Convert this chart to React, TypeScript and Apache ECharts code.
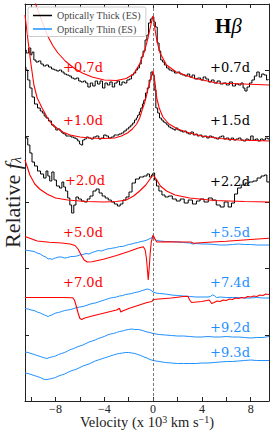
import React, { useEffect, useRef } from "react";
import * as echarts from "echarts";

// velocity (10^3 km/s) vs. relative flux (arbitrary, offset) — [v, f]
const thick07: number[][] = [[-10.5,351],[-10.3,348],[-10.1,353],[-9.95,346],[-9.85,349],[-9.7,341],[-9.5,339],[-9.3,340],[-9.1,337],[-8.9,335],[-8.7,336],[-8.45,334],[-8.2,332],[-8.0,331],[-7.8,330],[-7.6,331],[-7.4,329],[-7.2,327],[-7.0,326],[-6.8,325],[-6.6,323],[-6.4,322],[-6.2,323],[-6.0,320],[-5.8,319],[-5.6,320],[-5.45,318],[-5.25,314],[-5.05,318],[-4.85,315],[-4.65,320],[-4.45,317],[-4.25,320],[-4.05,313],[-3.85,318],[-3.65,316],[-3.45,319],[-3.25,314],[-3.05,318],[-2.85,320],[-2.65,316],[-2.45,319],[-2.25,318],[-2.05,321],[-1.85,322],[-1.7,326],[-1.5,328],[-1.35,331],[-1.2,333],[-1.05,337],[-0.9,344],[-0.75,350],[-0.57,361],[-0.45,366],[-0.3,378],[-0.15,382],[0,384],[0.12,379],[0.25,374],[0.43,358],[0.55,350],[0.7,341],[0.85,339],[1.0,336],[1.2,333],[1.4,331],[1.6,330],[1.9,328],[2.1,329],[2.3,327],[2.5,326],[2.7,325],[2.9,327],[3.1,324],[3.3,326],[3.5,322],[3.8,323],[4.0,321],[4.2,324],[4.45,322],[4.65,319],[4.9,321],[5.1,318],[5.4,320],[5.6,317],[5.9,318],[6.1,316],[6.4,319],[6.6,315],[6.9,317],[7.1,316],[7.3,318],[7.45,313],[7.6,310],[7.8,314],[8.0,318],[8.2,321],[8.4,325],[8.6,329],[8.8,324],[9.0,327],[9.2,326],[9.4,321],[9.5,322]];
const thick15: number[][] = [[-10.5,334],[-10.35,331],[-10.2,321],[-10.0,313],[-9.85,304],[-9.6,297],[-9.35,293],[-9.15,290],[-9.0,288],[-8.85,285],[-8.7,283],[-8.45,280],[-8.2,276],[-8.05,274],[-7.9,271],[-7.7,272],[-7.55,270],[-7.4,268],[-7.25,267],[-7.05,265],[-6.85,265],[-6.6,264],[-6.4,263],[-6.25,262],[-6.1,260],[-5.95,257],[-5.85,256],[-5.7,261],[-5.55,262],[-5.4,264],[-5.2,263],[-5.0,262],[-4.8,264],[-4.55,265],[-4.35,262],[-4.15,263],[-3.95,266],[-3.75,265],[-3.55,263],[-3.3,264],[-3.1,266],[-2.9,266],[-2.7,267],[-2.5,268],[-2.3,270],[-2.1,272],[-1.9,274],[-1.75,276],[-1.6,278],[-1.45,281],[-1.3,283],[-1.2,286],[-1.05,289],[-0.95,293],[-0.8,297],[-0.7,301],[-0.55,308],[-0.4,313],[-0.25,321],[-0.1,329],[0.02,326],[0.15,311],[0.3,293],[0.45,288],[0.6,283],[0.75,281],[0.9,279],[1.05,278],[1.2,276],[1.35,274],[1.5,273],[1.65,272],[1.8,271],[1.95,273],[2.1,271],[2.3,270],[2.5,269],[2.65,270],[2.8,268],[3.0,267],[3.2,269],[3.4,266],[3.55,267],[3.7,265],[3.9,266],[4.1,264],[4.3,265],[4.5,263],[4.7,265],[4.9,264],[5.1,263],[5.3,262],[5.5,264],[5.7,265],[5.9,262],[6.1,263],[6.3,261],[6.5,263],[6.7,261],[6.9,262],[7.1,263],[7.3,261],[7.5,260],[7.7,262],[7.9,261],[8.1,265],[8.3,261],[8.5,262],[8.7,260],[8.9,262],[9.1,261],[9.3,263],[9.5,262]];
const thick22: number[][] = [[-10.5,264],[-10.35,263],[-10.2,256],[-10.0,248],[-9.85,239],[-9.6,235],[-9.35,230],[-9.1,227],[-8.85,223],[-8.7,230],[-8.55,225],[-8.4,220],[-8.2,229],[-8.05,221],[-7.8,215],[-7.55,213],[-7.4,219],[-7.25,214],[-7.1,210],[-6.9,203],[-6.75,196],[-6.6,188],[-6.4,196],[-6.25,204],[-6.0,202],[-5.75,200],[-5.5,199],[-5.3,202],[-5.05,205],[-4.8,210],[-4.55,212],[-4.3,208],[-4.05,205],[-3.8,203],[-3.55,201],[-3.3,199],[-3.05,197],[-2.8,195],[-2.6,197],[-2.35,201],[-2.1,204],[-1.85,209],[-1.6,218],[-1.3,222],[-0.95,224],[-0.6,225],[-0.4,227],[-0.2,224],[-0.05,226],[0.05,228],[0.2,221],[0.35,215],[0.6,210],[0.85,206],[1.1,204],[1.4,205],[1.75,202],[2.05,200],[2.4,202],[2.7,198],[3.05,201],[3.4,197],[3.7,200],[4.0,202],[4.35,199],[4.7,203],[5.0,201],[5.35,196],[5.65,194],[6.0,199],[6.3,194],[6.55,198],[6.8,207],[7.05,213],[7.4,216],[7.7,218],[8.05,219],[8.35,220],[8.7,223],[9.0,225],[9.25,226],[9.4,219],[9.5,219]];
const model07: number[][] = [[-10.1,425],[-9.8,405],[-9.6,396],[-9.3,386],[-9.0,376],[-8.6,364],[-8.2,355],[-7.8,348],[-7.2,340],[-6.5,333],[-5.8,328],[-5.0,324],[-4.0,321],[-3.0,320.5],[-2.2,322.5],[-1.6,327],[-1.1,337],[-0.7,350],[-0.4,364],[-0.15,378],[0,385],[0.15,372],[0.3,361],[0.57,348],[1.1,336],[1.9,329],[3.3,323],[5.2,318],[7.4,317],[9.5,316]];
const model10: number[][] = [[-10.5,386],[-10.26,361],[-10.0,336],[-9.77,316],[-9.5,303],[-9.1,293],[-8.7,284],[-8.3,277],[-7.9,273],[-7.4,269],[-6.8,266],[-6.0,264],[-5.2,263],[-4.1,262.5],[-3.15,263],[-2.6,265],[-2.1,268],[-1.7,272],[-1.35,277],[-1.1,283],[-0.9,291],[-0.7,298],[-0.55,305],[-0.4,313],[-0.2,322],[0,330],[0.15,319],[0.3,303],[0.5,293],[0.8,284],[1.3,277],[2.0,272],[3.0,268],[4.0,265],[5.5,262.5],[7.0,261],[9.5,260]];
const model20: number[][] = [[-10.5,241],[-10.1,226],[-9.7,217],[-9.3,212],[-8.7,207],[-8.0,203],[-7.0,201],[-5.5,199.5],[-4.0,199],[-3.0,199.5],[-2.2,201],[-1.6,205],[-1.1,210],[-0.6,216],[-0.25,222],[0,226],[0.25,222],[0.6,215],[1.1,210],[1.8,206],[3.0,203],[5.0,200.5],[7.5,199.5],[9.5,199]];
const model50: number[][] = [[-10.5,164.5],[-9.5,160],[-8.5,158.7],[-7.5,158],[-6.8,157],[-6.4,155.5],[-6.15,152],[-5.9,146],[-5.65,141],[-5.4,139],[-5.0,139.3],[-4.0,142],[-3.0,145.5],[-2.0,149.5],[-1.2,153],[-0.8,154.3],[-0.65,151],[-0.55,143],[-0.45,129],[-0.4,121],[-0.33,131],[-0.25,146],[-0.15,159],[0,166],[0.15,162],[0.3,159],[1.0,159.3],[2.5,159],[3.1,159],[3.3,157.7],[4.5,158.7],[6.0,159.7],[8.0,161.5],[9.5,162.7]];
const model70: number[][] = [[-10.5,103.5],[-9.0,103.5],[-7.5,103.5],[-6.6,103.3],[-6.45,101],[-6.3,95],[-6.15,88],[-6.0,82.5],[-5.85,81.5],[-5.6,83],[-5.0,85],[-4.0,88],[-3.0,91],[-2.75,92.7],[-2.65,89],[-2.5,90],[-2.0,92.5],[-1.5,94.5],[-1.0,96.5],[-0.5,98.5],[-0.1,99.5],[0,101.5],[0.5,102],[1.5,103],[2.5,104.5],[2.85,104.7],[3.0,101],[3.15,98.5],[4.0,99.5],[4.6,101],[4.8,97.5],[5.0,98.5],[5.25,100],[5.5,99.5],[5.75,101],[6.0,100.5],[6.25,102],[6.5,101.5],[6.75,103],[7.0,102.5],[7.25,103.5],[7.5,103],[7.75,104.5],[8.0,104],[8.25,105],[8.5,104.5],[8.75,106],[9.0,105.5],[9.25,107],[9.5,106.5]];
const thin55: number[][] = [[-10.5,151],[-10.25,150.5],[-10.0,150],[-9.75,149.5],[-9.5,148],[-9.25,147],[-9.0,145],[-8.8,144],[-8.6,142],[-8.45,142.5],[-8.3,141.5],[-8.15,142.5],[-8.0,143],[-7.75,144],[-7.5,144],[-7.25,143],[-7.0,143.5],[-6.75,144.5],[-6.5,144.5],[-6.25,145],[-6.0,146],[-5.75,146.5],[-5.5,147.5],[-5.25,147],[-5.0,148.5],[-4.75,149.5],[-4.5,150.5],[-4.25,150],[-4.0,151],[-3.75,152],[-3.5,152.5],[-3.25,153],[-3.0,153.5],[-2.75,154.5],[-2.5,154.5],[-2.25,155.5],[-2.0,156.5],[-1.75,157],[-1.5,158],[-1.25,158.5],[-1.0,159.5],[-0.75,160],[-0.5,161],[-0.25,162.5],[0,164],[0.15,162],[0.3,160.5],[0.6,160],[1.0,159.5],[1.5,159.5],[2.0,159],[2.5,158.5],[3.0,158],[3.25,157],[3.5,157.5],[4.0,157],[4.5,157],[5.0,156.5],[5.5,156],[6.0,156],[6.5,156.5],[7.0,157],[7.5,156.5],[8.0,156.5],[8.5,156],[9.0,156],[9.5,156]];
const thin74: number[][] = [[-10.5,92.5],[-10.25,92],[-10.0,91],[-9.75,90.5],[-9.5,89],[-9.25,88],[-9.0,86.5],[-8.8,85.5],[-8.6,84.5],[-8.45,85.5],[-8.3,86],[-8.15,87],[-8.0,88],[-7.75,88.5],[-7.5,89.5],[-7.25,90.5],[-7.0,91],[-6.75,91.5],[-6.5,92.5],[-6.25,93.5],[-6.0,94],[-5.75,94.5],[-5.5,95.5],[-5.25,96.5],[-5.0,97.5],[-4.75,98],[-4.5,99],[-4.25,100],[-4.0,101],[-3.75,102],[-3.5,103],[-3.25,103.5],[-3.0,104],[-2.75,105],[-2.5,105.5],[-2.25,106.5],[-2.0,107],[-1.75,107.5],[-1.5,108.5],[-1.25,109],[-1.0,110],[-0.75,111],[-0.5,112],[-0.3,111.5],[-0.15,110.5],[0,109],[0.25,108],[0.5,107.5],[1.0,107],[1.5,106],[2.0,105.5],[2.5,105],[3.0,104.5],[3.5,104],[4.0,104],[4.5,104],[4.7,104.5],[4.85,106],[5.0,105.5],[5.2,103.5],[5.5,104],[6.0,103.5],[6.5,103.5],[7.0,103.5],[7.5,103],[8.0,103],[8.5,103.5],[9.0,103],[9.5,103]];
const thin92: number[][] = [[-10.5,49],[-10.25,48.5],[-10.0,47.5],[-9.75,46.5],[-9.5,45.5],[-9.25,44.5],[-9.0,43.5],[-8.85,43],[-8.7,42.5],[-8.5,43.5],[-8.3,44],[-8.15,44.5],[-8.0,45],[-7.75,46.5],[-7.5,47.5],[-7.25,48.5],[-7.0,50],[-6.75,51.5],[-6.5,52.5],[-6.25,54],[-6.0,55],[-5.75,56],[-5.5,57.5],[-5.25,59],[-5.0,60],[-4.75,61],[-4.5,62.5],[-4.25,63.5],[-4.0,64.5],[-3.75,66],[-3.5,67],[-3.25,67.5],[-3.0,68.5],[-2.75,69.5],[-2.5,70],[-2.25,71],[-2.0,71.5],[-1.75,72],[-1.5,71.5],[-1.25,71.5],[-1.0,71],[-0.75,70],[-0.5,69],[-0.25,68.5],[0,67.5],[0.25,67],[0.5,66.5],[1.0,66],[1.5,65.5],[2.0,65],[2.5,65],[3.0,64.5],[3.5,64],[4.0,64],[4.5,64.5],[5.0,64],[5.5,64],[6.0,64.5],[6.5,64],[7.0,64],[7.5,63.5],[8.0,63],[8.5,63.5],[9.0,63.5],[9.5,64.5]];
const thin93: number[][] = [[-10.5,28],[-10.25,27.5],[-10.0,26.5],[-9.75,25.5],[-9.5,24.5],[-9.25,23.5],[-9.0,22],[-8.85,21.5],[-8.7,21.5],[-8.5,22],[-8.3,22.5],[-8.15,23],[-8.0,23.5],[-7.75,25],[-7.5,26],[-7.25,27],[-7.0,28.5],[-6.75,30],[-6.5,31],[-6.25,32],[-6.0,33.5],[-5.75,35],[-5.5,36],[-5.25,37],[-5.0,38.5],[-4.75,40],[-4.5,41],[-4.25,42],[-4.0,43],[-3.75,44],[-3.5,45],[-3.25,46],[-3.0,47],[-2.75,47.5],[-2.5,48],[-2.25,48.5],[-2.0,48.5],[-1.75,48],[-1.5,47.5],[-1.25,46.5],[-1.0,45.5],[-0.75,44],[-0.5,43],[-0.25,41.5],[0,40.5],[0.25,40],[0.5,39.5],[1.0,38.5],[1.5,38],[2.0,37.5],[2.5,37.5],[3.0,37.5],[3.5,37.5],[4.0,38],[4.5,38],[5.0,38.5],[5.5,39],[6.0,39.5],[6.5,39.5],[7.0,40],[7.5,40.5],[8.0,41],[8.5,40.5],[9.0,40.5],[9.5,40.5]];

const xTicks = [-10, -8, -6, -4, -2, 0, 2, 4, 6, 8];
const xLabels = [-8, -4, 0, 4, 8];

const THICK = "Optically Thick (ES)";
const THIN = "Optically Thin (ES)";
const BLACK = "#000000";
const RED = "#ff0000";
const BLUE = "#1e90ff";

const epochLabels = [
  { text: "+0.7d", color: RED, x: 83, y: 67 },
  { text: "+0.7d", color: BLACK, x: 230, y: 67 },
  { text: "+1.0d", color: RED, x: 83, y: 120 },
  { text: "+1.5d", color: BLACK, x: 230, y: 120 },
  { text: "+2.0d", color: RED, x: 85, y: 180 },
  { text: "+2.2d", color: BLACK, x: 230, y: 181 },
  { text: "+5.0d", color: RED, x: 83, y: 232 },
  { text: "+5.5d", color: BLUE, x: 230, y: 232 },
  { text: "+7.0d", color: RED, x: 83, y: 282 },
  { text: "+7.4d", color: BLUE, x: 230, y: 282 },
  { text: "+9.2d", color: BLUE, x: 230, y: 327 },
  { text: "+9.3d", color: BLUE, x: 230, y: 352 },
];

export default function App() {
  const ref = useRef<HTMLDivElement>(null);
  useEffect(() => {
    const chart = echarts.init(ref.current!, null, { renderer: "svg" });
    const mk = (name: string, data: number[][], color: string, width: number, step?: string, z = 2) => ({
      type: "line",
      name,
      data,
      step: step || false,
      symbol: "none",
      showSymbol: false,
      clip: true,
      silent: true,
      z,
      lineStyle: { color, width },
      itemStyle: { color },
    });
    const series: any[] = [
      mk(THIN, thin55, BLUE, 1),
      mk(THIN, thin74, BLUE, 1),
      mk(THIN, thin92, BLUE, 1),
      mk(THIN, thin93, BLUE, 1),
      mk(THICK, thick07, BLACK, 1, "middle"),
      mk(THICK, thick15, BLACK, 1, "middle"),
      mk(THICK, thick22, BLACK, 1, "middle"),
      mk("model +0.7d", model07, RED, 1.1, undefined, 3),
      mk("model +1.0d", model10, RED, 1.1, undefined, 3),
      mk("model +2.0d", model20, RED, 1.1, undefined, 3),
      mk("model +5.0d", model50, RED, 1.1, undefined, 3),
      mk("model +7.0d", model70, RED, 1.1, undefined, 3),
    ];
    series[0].markLine = {
      silent: true,
      symbol: "none",
      label: { show: false },
      lineStyle: { color: "#555", width: 0.8, type: [3, 2] },
      data: [{ xAxis: 0 }],
    };
    const axisLine = { show: true, onZero: false, lineStyle: { color: "#222", width: 1 } };
    const tickCommon = { show: true, inside: true, length: 4, lineStyle: { color: "#222", width: 1 } };
    const option: any = {
      animation: false,
      backgroundColor: "#ffffff",
      grid: { left: 25, right: 5, top: 4, bottom: 33, containLabel: false, outerBoundsMode: "none" },
      legend: {
        data: [THICK, THIN],
        orient: "vertical",
        left: 28,
        top: 7,
        padding: [3, 5, 2, 5],
        itemWidth: 19,
        itemHeight: 1.5,
        itemGap: 2.5,
        icon: "rect",
        selectedMode: false,
        backgroundColor: "rgba(255,255,255,0.85)",
        borderColor: "#cccccc",
        borderWidth: 1,
        borderRadius: 2,
        textStyle: { fontFamily: "Liberation Serif", fontSize: 10, color: "#444", lineHeight: 11 },
      },
      xAxis: [
        {
          type: "value",
          min: -10.5,
          max: 9.5,
          position: "bottom",
          axisLine,
          axisTick: { ...tickCommon, customValues: xTicks },
          axisLabel: {
            customValues: xLabels,
            formatter: (v: number) => String(v).replace("-", "\u2212"),
            fontFamily: "Liberation Serif",
            fontSize: 12,
            lineHeight: 10,
            color: "#222",
            margin: 3,
          },
          splitLine: { show: false },
        },
        {
          type: "value",
          min: -10.5,
          max: 9.5,
          position: "top",
          axisLine,
          axisTick: { ...tickCommon, customValues: xTicks },
          axisLabel: { show: false },
          splitLine: { show: false },
        },
      ],
      yAxis: [
        {
          type: "value",
          min: 0,
          max: 397,
          interval: 66.2,
          position: "left",
          axisLine,
          axisTick: tickCommon,
          axisLabel: { show: false },
          splitLine: { show: false },
          name: "{a|Relative }{b|f}{c|\u03bb}",
          nameLocation: "middle",
          nameRotate: 90,
          nameGap: 1.5,
          nameMoveOverlap: false,
          nameTextStyle: {
            fontFamily: "Liberation Serif",
            fontSize: 22,
            color: "#222",
            rich: {
              a: { fontFamily: "Liberation Serif", fontSize: 22, lineHeight: 22, color: "#222" },
              b: { fontFamily: "Liberation Serif", fontStyle: "italic", fontSize: 22, lineHeight: 22, color: "#222" },
              c: { fontFamily: "Liberation Serif", fontStyle: "italic", fontSize: 14, lineHeight: 14, color: "#222", padding: [8, 0, 0, 0] },
            },
          },
        },
        {
          type: "value",
          min: 0,
          max: 397,
          interval: 66.2,
          position: "right",
          axisLine,
          axisTick: tickCommon,
          axisLabel: { show: false },
          splitLine: { show: false },
        },
      ],
      series,
      graphic: [
        ...epochLabels.map((l) => ({
          type: "text",
          x: l.x,
          y: l.y,
          z: 10,
          silent: true,
          style: {
            text: l.text,
            fill: l.color,
            font: "13px 'DejaVu Serif'",
            align: "center",
            verticalAlign: "middle",
          },
        })),
        {
          type: "text",
          x: 215,
          y: 26,
          z: 10,
          silent: true,
          style: {
            text: "{h|H}{b|\u03b2}",
            align: "left",
            verticalAlign: "middle",
            rich: {
              h: { fontFamily: "Liberation Serif", fontWeight: "bold", fontSize: 21, fill: "#000" },
              b: { fontFamily: "Liberation Serif", fontStyle: "italic", fontSize: 21, fill: "#000" },
            },
          },
        },
        {
          type: "text",
          x: 147,
          y: 415,
          z: 10,
          silent: true,
          style: {
            text: "{a|Velocity (x 10}{s|3}{a| km s}{s|\u22121}{a|)}",
            align: "center",
            verticalAlign: "top",
            rich: {
              a: { fontFamily: "Liberation Serif", fontSize: 14.5, lineHeight: 14, fill: "#222" },
              s: { fontFamily: "Liberation Serif", fontSize: 10, lineHeight: 8, fill: "#222", padding: [0, 0, 6, 0] },
            },
          },
        },
      ],
    };
    chart.setOption(option);
    return () => chart.dispose();
  }, []);
  return (
    <div
      ref={ref}
      style={{ position: "fixed", left: 0, top: 0, width: 274, height: 434, background: "#fff" }}
    />
  );
}
